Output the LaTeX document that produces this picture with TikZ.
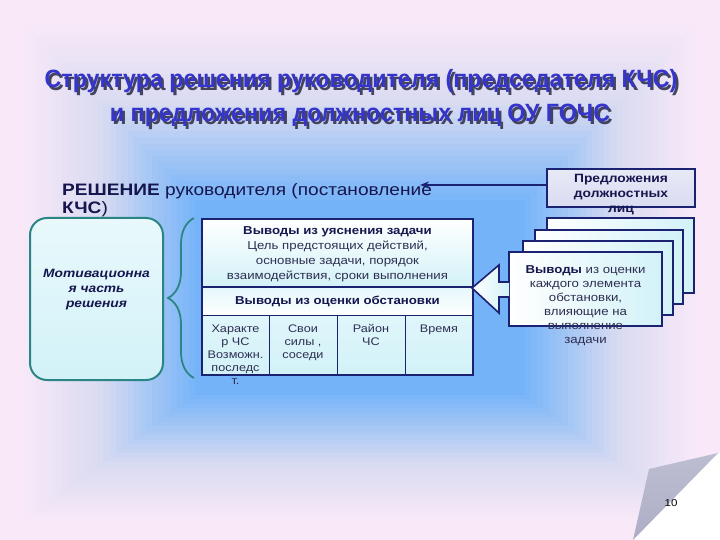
\documentclass[tikz,border=0pt]{standalone}
\usepackage{fontspec}
\setmainfont{Liberation Sans}[FakeStretch=1.15]
\newfontfamily\titlefont{Liberation Sans}[FakeStretch=0.93]
\usetikzlibrary{decorations.pathreplacing}
\usetikzlibrary{arrows.meta}

\definecolor{bgpink}{HTML}{F9E9F8}
\definecolor{bglav}{HTML}{D9DBF1}
\definecolor{bgblue}{HTML}{74B3F8}
\definecolor{navy}{HTML}{1C2272}
\definecolor{inknavy}{HTML}{16164E}
\definecolor{inkgray}{HTML}{2E2E52}
\definecolor{tealdk}{HTML}{2B8584}
\definecolor{ttlblue}{HTML}{3535CC}
\definecolor{ttlshadow}{HTML}{44445E}
\definecolor{cellcyan}{HTML}{D2F2F8}
\definecolor{foldgray}{HTML}{ADADC6}

% title text with its dark shadow
\newcommand\ttlshade[1]{\rlap{\hspace{2.5pt}\raisebox{-2.5pt}{\textcolor{ttlshadow}{#1}}}\textcolor{ttlblue}{#1}}

\tikzset{
	ttl/.style={font=\titlefont\bfseries\fontsize{25}{30}\selectfont, anchor=base, inner sep=0pt},
	bodytxt/.style={text=inkgray, align=center, anchor=base, inner sep=0pt},
	headtxt/.style={text=inknavy, anchor=base west, inner sep=0pt, font=\fontsize{16.6}{18}\selectfont},
	stackbox/.style={draw=navy, line width=1.6pt, left color=white, right color=cellcyan},
	predbox/.style={draw=navy, line width=1.6pt, top color=bglav!60!white, bottom color=bglav,
		minimum width=148pt, minimum height=38pt, inner sep=0pt},
	motivbox/.style={draw=tealdk, line width=2pt, rounded corners=17pt, top color=cellcyan!50!white,
		bottom color=cellcyan, minimum width=133pt, minimum height=162pt, inner sep=0pt},
	tline/.style={draw=navy, line width=1pt},
	ptr/.style={draw=navy, line width=1.6pt, -{Stealth[length=9pt,width=7pt]}}
}

\begin{document}
\begin{tikzpicture}[x=1pt,y=-1pt]
	\useasboundingbox (0,0) rectangle (720,540);
	% background, stepped gradient from the centre
	\fill[bgpink] (0,0) rectangle (720,540);
	\foreach \i in {0,...,29}{
		\pgfmathsetmacro{\t}{\i/29}
		\pgfmathsetmacro{\pa}{min(100,100*\t/0.45)}
		\pgfmathsetmacro{\pb}{max(0,100*(\t-0.45)/0.55)}
		\fill[color=bgblue!\pb!bglav!\pa!bgpink] (18+177*\t,18+182*\t) rectangle (702-177*\t,525-130*\t);
	}
	% page curl
	\fill[white] (718,453) -- (720,453) -- (720,540) -- (633,540) -- cycle;
	\shade[top color=foldgray!80, bottom color=foldgray] (633,540) -- (649,469) -- (718,453) -- cycle;
	\node[font=\fontsize{10}{12}\selectfont, inner sep=0pt] (pgno) at (671,503) {10};

	% title
	\node[ttl] (ttl1) at (361,88) {\ttlshade{Структура решения руководителя (председателя КЧС)}};
	\node[ttl] (ttl2) at (360,122) {\ttlshade{и предложения должностных лиц ОУ ГОЧС}};

	\node[headtxt] (resh1) at (62,196) {\textbf{РЕШЕНИЕ} руководителя (постановление};
	\node[headtxt] (resh2) at (62,214) {\textbf{КЧС})};

	% table
	\shade[top color=white, bottom color=cellcyan] (202,219) rectangle (473,287);
	\shade[top color=cellcyan!60!white, bottom color=white] (202,287) rectangle (473,315);
	\shade[top color=cellcyan!70!white, bottom color=cellcyan] (202,315) rectangle (473,375);
	\foreach \x in {269,337,405}
		\draw[tline] (\x,315) -- (\x,375);
	\draw[tline] (202,315) -- (473,315);
	\draw[navy, line width=2pt] (202,287) -- (473,287);
	\draw[navy, line width=1.6pt] (202,219) rectangle (473,375);

	% left part
	\node[motivbox] (motiv) at (96.5,299) {};
	\coordinate (brbot) at (194,378);
	\coordinate (brtop) at (194,218);
	\draw[tealdk, line width=1.8pt, decorate, decoration={brace, amplitude=26pt}] (brbot) -- (brtop);

	% proposals
	\node[predbox] (predl) at (621,188) {};
	\coordinate (ptip) at (420,185);
	\draw[ptr] (predl.west |- ptip) -- (ptip);
	\draw[stackbox] (547,218) rectangle (694,293);
	\draw[stackbox] (535,230) rectangle (683,304);
	\draw[stackbox] (523,241) rectangle (673,315);
	\draw[stackbox] (509,252) rectangle (662,326);
	\shade[left color=white, right color=cellcyan] (509,282) -- (499,282) -- (499,265) -- (472,288)
		-- (499,313) -- (499,297) -- (509,297) -- cycle;
	\draw[navy, line width=1.6pt] (509,282) -- (499,282) -- (499,265) -- (472,288)
		-- (499,313) -- (499,297) -- (509,297);

	% texts (base = last line)
	\node[bodytxt, text=inknavy, font=\bfseries\itshape\fontsize{12}{15}\selectfont] (motivtxt) at (96.5,307) {Мотивационна\\я часть\\решения};
	\node[bodytxt, font=\fontsize{11.5}{15}\selectfont] (zad) at (337.5,279) {\textcolor{inknavy}{\textbf{Выводы из уяснения задачи}}\\Цель предстоящих действий,\\основные задачи, порядок\\взаимодействия, сроки выполнения};
	\node[bodytxt, text=inknavy, font=\bfseries\fontsize{11.5}{15}\selectfont] (obst) at (337.5,304) {Выводы из оценки обстановки};
	\node[bodytxt, font=\fontsize{11}{13}\selectfont] (c1) at (235.5,384) {Характе\\р ЧС\\Возможн.\\последс\\т.};
	\node[bodytxt, font=\fontsize{11}{13}\selectfont] (c2) at (303,358) {Свои\\силы ,\\соседи};
	\node[bodytxt, font=\fontsize{11}{13}\selectfont] (c3) at (371,345) {Район\\ЧС};
	\node[bodytxt, font=\fontsize{11}{13}\selectfont] (c4) at (439,332) {Время};
	\node[bodytxt, text=inknavy, font=\bfseries\fontsize{12}{15}\selectfont] (predltxt) at (621,213) {Предложения\\должностных\\лиц};
	\node[bodytxt, font=\fontsize{11.5}{14}\selectfont] (vyvtxt) at (585.5,343) {\textcolor{inknavy}{\textbf{Выводы}} из оценки\\каждого элемента\\обстановки,\\влияющие на\\выполнение\\задачи};
\end{tikzpicture}
\end{document}
